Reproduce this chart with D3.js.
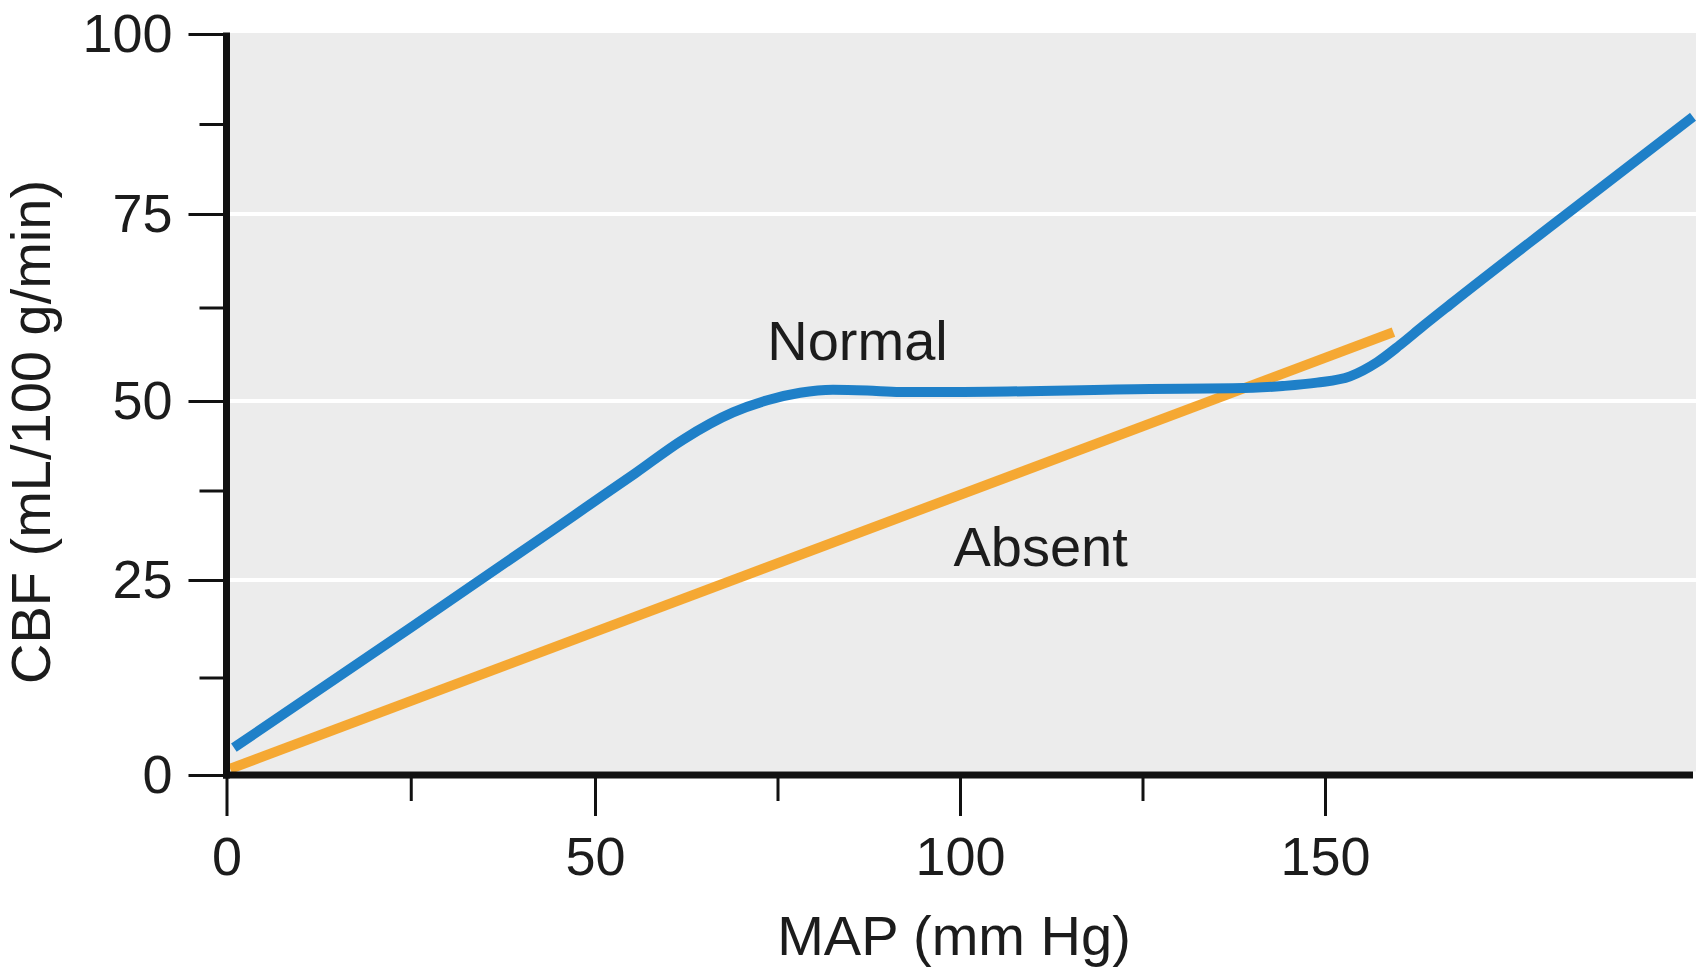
<!DOCTYPE html>
<html>
<head>
<meta charset="utf-8">
<script src="https://cdn.jsdelivr.net/npm/d3@7"></script>
<style>
  html, body { margin: 0; padding: 0; background: #fff; }
  svg { display: block; }
  text { font-family: "Liberation Sans", Arial, Helvetica, sans-serif; fill: #1c1c1c; }
</style>
</head>
<body>
<svg id="chart" width="1705" height="967"></svg>
<script>
// ---- data ----
const xMajorTicks = [0, 50, 100, 150];
const xMinorTicks = [25, 75, 125];
const yMajorTicks = [0, 25, 50, 75, 100];
const yMinorTicks = [12.5, 37.5, 62.5, 87.5];
const gridValues = [25, 50, 75];

const normalX = [1, 25, 44.2, 48.7, 55.5, 62.05, 68.9, 73.6, 78.1, 82.6, 87.3, 91.8, 98.6, 126.0, 137.4, 144.2, 148.9, 153.4, 157.1, 160.2, 163.3, 167.0, 181.25, 200];
const normalY = [3.5, 18.9, 31.9, 35.1, 39.9, 44.6, 48.4, 50.1, 51.1, 51.5, 51.4, 51.2, 51.2, 51.6, 51.7, 52.0, 52.45, 53.3, 55.2, 57.5, 60.0, 62.9, 73.8, 88.5];

const absentX = [0.5, 159.3];
const absentY = [0.8, 59.2];

const labels = [
  { text: "Normal", x: 73.6, y: 55.5 },
  { text: "Absent", x: 99.1, y: 26.9 }
];

const xTitle = "MAP (mm Hg)";
const yTitle = "CBF (mL/100 g/min)";

// ---- scales ----
const x = d3.scaleLinear().domain([0, 50, 100, 150, 200]).range([226.5, 595, 960, 1325, 1693]);
const y = d3.scaleLinear().domain([0, 25, 50, 75, 100]).range([775, 580, 401, 214, 34]);

const svg = d3.select("#chart");

// background
svg.append("rect")
  .attr("x", x(0) + 3.5).attr("y", y(100) - 1)
  .attr("width", x(200) + 3 - x(0) - 3.5)
  .attr("height", y(0) - 3.5 - y(100) + 1)
  .attr("fill", "#ececec");

// grid
svg.append("g").selectAll("line").data(gridValues).join("line")
  .attr("x1", x(0) + 3.5).attr("x2", x(200) + 3)
  .attr("y1", d => y(d)).attr("y2", d => y(d))
  .attr("stroke", "#ffffff").attr("stroke-width", 4);

// lines
const lineGen = d3.line().x(d => x(d[0])).y(d => y(d[1])).curve(d3.curveMonotoneX);
const absentData = absentX.map((v, i) => [v, absentY[i]]);
const normalData = normalX.map((v, i) => [v, normalY[i]]);

svg.append("path").datum(absentData)
  .attr("d", lineGen).attr("fill", "none")
  .attr("stroke", "#f5a833").attr("stroke-width", 10).attr("stroke-linecap", "butt");

svg.append("path").datum(normalData)
  .attr("d", lineGen).attr("fill", "none")
  .attr("stroke", "#1f80c8").attr("stroke-width", 10).attr("stroke-linecap", "butt");

// axes
const tickColor = "#111";
const xAxisMajor = d3.axisBottom(x).tickValues(xMajorTicks).tickSize(41).tickSizeOuter(0).tickFormat(d3.format("d"));
const xAxisMinor = d3.axisBottom(x).tickValues(xMinorTicks).tickSize(26).tickSizeOuter(0).tickFormat("");
const yAxisMajor = d3.axisLeft(y).tickValues(yMajorTicks).tickSize(38).tickSizeOuter(0).tickFormat(d3.format("d"));
const yAxisMinor = d3.axisLeft(y).tickValues(yMinorTicks).tickSize(27).tickSizeOuter(0).tickFormat("");

function styleAxis(g) {
  g.select(".domain").remove();
  g.selectAll(".tick line").attr("stroke", tickColor).attr("stroke-width", 3);
  g.selectAll(".tick text").attr("font-size", 54).attr("fill", "#1c1c1c")
    .attr("font-family", "'Liberation Sans', Arial, Helvetica, sans-serif");
}

const gx = svg.append("g").attr("transform", `translate(0,${y(0)})`).call(xAxisMajor).call(styleAxis);
gx.selectAll(".tick text").attr("y", 100).attr("dy", 0);
svg.append("g").attr("transform", `translate(0,${y(0)})`).call(xAxisMinor).call(styleAxis);

const gy = svg.append("g").attr("transform", `translate(${x(0)},0)`).call(yAxisMajor).call(styleAxis);
gy.selectAll(".tick text").attr("x", -54).attr("dy", "0.33em");
svg.append("g").attr("transform", `translate(${x(0)},0)`).call(yAxisMinor).call(styleAxis);

// axis spines
svg.append("line")
  .attr("x1", x(0)).attr("x2", x(0))
  .attr("y1", y(100) - 1.5).attr("y2", y(0) + 3.5)
  .attr("stroke", tickColor).attr("stroke-width", 7);
svg.append("line")
  .attr("x1", x(0) - 3.5).attr("x2", x(200))
  .attr("y1", y(0)).attr("y2", y(0))
  .attr("stroke", tickColor).attr("stroke-width", 7);

// annotations
svg.append("g").selectAll("text").data(labels).join("text")
  .attr("x", d => x(d.x)).attr("y", d => y(d.y))
  .attr("font-size", 56)
  .text(d => d.text);

// titles
svg.append("text")
  .attr("x", 954).attr("y", 955)
  .attr("text-anchor", "middle").attr("font-size", 56)
  .text(xTitle);

svg.append("text")
  .attr("transform", "translate(50,432) rotate(-90)")
  .attr("text-anchor", "middle").attr("font-size", 56)
  .text(yTitle);
</script>
</body>
</html>
